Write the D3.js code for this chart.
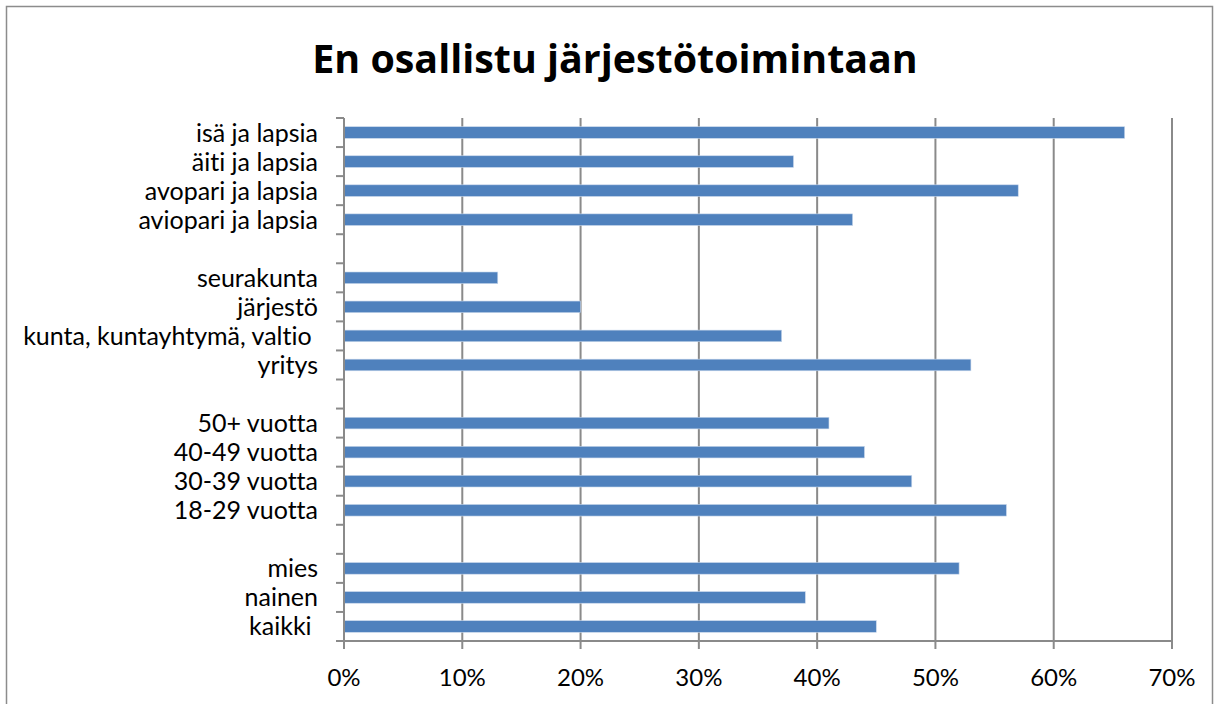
<!DOCTYPE html>
<html>
<head>
<meta charset="utf-8">
<script src="https://cdn.jsdelivr.net/npm/d3@7"></script>
<style>
  body { margin: 0; background: #fff; }
  svg { display: block; font-family: Lato, "Open Sans", sans-serif; font-variant-ligatures: none; }
</style>
</head>
<body>
<div id="chart"></div>
<script>
// categories top→bottom, blank = empty spacer row
const categories = [
  'isä ja lapsia', 'äiti ja lapsia', 'avopari ja lapsia', 'aviopari ja lapsia', '',
  'seurakunta', 'järjestö', 'kunta, kuntayhtymä, valtio ', 'yritys', ' ',
  '50+ vuotta', '40-49 vuotta', '30-39 vuotta', '18-29 vuotta', '  ',
  'mies', 'nainen', 'kaikki '
];
const values = [66, 38, 57, 43, null, 13, 20, 37, 53, null, 41, 44, 48, 56, null, 52, 39, 45];
const xTicks = [0, 10, 20, 30, 40, 50, 60, 70];

const W = 1219, H = 704;
const m = { top: 118, left: 344, right: 1172, bottom: 641 };

const svg = d3.select('#chart').append('svg')
  .attr('width', W).attr('height', H);

// outer chart frame
svg.append('rect')
  .attr('x', 6.5).attr('y', 6.5)
  .attr('width', 1206).attr('height', 720)
  .attr('fill', 'none').attr('stroke', '#8c8c8c').attr('stroke-width', 1.5);

svg.append('text')
  .attr('x', 615).attr('y', 73)
  .attr('text-anchor', 'middle')
  .attr('font-family', '"Open Sans", sans-serif')
  .attr('font-size', 39.4).attr('font-weight', 700)
  .attr('fill', '#000')
  .text('En osallistu järjestötoimintaan');

const x = d3.scaleLinear().domain([0, 70]).range([m.left, m.right]);
const y = d3.scaleBand().domain(d3.range(categories.length))
  .range([m.top, m.bottom]).paddingInner(0.6).paddingOuter(0.3);
const yStep = (m.bottom - m.top) / categories.length;

// vertical gridlines
svg.append('g').selectAll('line')
  .data(xTicks.slice(1))
  .join('line')
  .attr('x1', d => x(d)).attr('x2', d => x(d))
  .attr('y1', m.top).attr('y2', m.bottom)
  .attr('stroke', '#8a8a8a').attr('stroke-width', 2);

// bars
svg.append('g').selectAll('rect')
  .data(values.map((v, i) => ({ v, i })).filter(d => d.v != null))
  .join('rect')
  .attr('x', x(0))
  .attr('y', d => y(d.i))
  .attr('width', d => x(d.v) - x(0))
  .attr('height', y.bandwidth())
  .attr('fill', '#4f81bd')
  .attr('stroke', '#c9d8ec').attr('stroke-width', 0.6);

// left axis line + ticks between categories
const gy = svg.append('g');
gy.append('line')
  .attr('x1', m.left).attr('x2', m.left)
  .attr('y1', m.top).attr('y2', m.bottom)
  .attr('stroke', '#8a8a8a').attr('stroke-width', 2);
gy.selectAll('line.tk')
  .data(d3.range(categories.length + 1))
  .join('line').attr('class', 'tk')
  .attr('x1', m.left - 8).attr('x2', m.left)
  .attr('y1', d => m.top + d * yStep).attr('y2', d => m.top + d * yStep)
  .attr('stroke', '#8a8a8a').attr('stroke-width', 2);
gy.selectAll('text')
  .data(categories)
  .join('text')
  .attr('x', m.left - 26)
  .attr('y', (d, i) => m.top + (i + 0.5) * yStep)
  .attr('dy', '0.36em')
  .attr('text-anchor', 'end')
  .attr('font-size', 25).attr('fill', '#000')
  .style('white-space', 'pre')
  .text(d => d);

// bottom axis
const gx = svg.append('g');
gx.append('line')
  .attr('x1', m.left).attr('x2', m.right)
  .attr('y1', m.bottom).attr('y2', m.bottom)
  .attr('stroke', '#8a8a8a').attr('stroke-width', 2);
gx.selectAll('line.tk')
  .data(xTicks)
  .join('line').attr('class', 'tk')
  .attr('x1', d => x(d)).attr('x2', d => x(d))
  .attr('y1', m.bottom).attr('y2', m.bottom + 8)
  .attr('stroke', '#8a8a8a').attr('stroke-width', 2);
gx.selectAll('text')
  .data(xTicks)
  .join('text')
  .attr('x', d => x(d))
  .attr('y', 686)
  .attr('text-anchor', 'middle')
  .attr('font-size', 24).attr('fill', '#000')
  .text(d => d + '%');
</script>
</body>
</html>
